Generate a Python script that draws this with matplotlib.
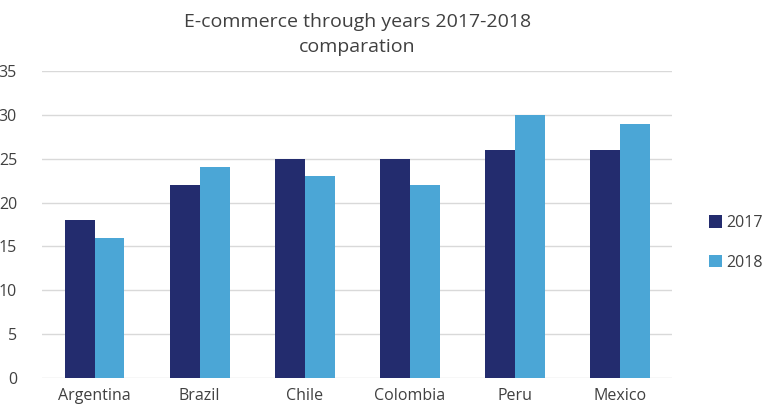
import numpy as np
import matplotlib.pyplot as plt

plt.rcParams['font.family'] = ['Open Sans', 'DejaVu Sans']

countries = ['Argentina', 'Brazil', 'Chile', 'Colombia', 'Peru', 'Mexico']
sales_2017 = [18, 22, 25, 25, 26, 26]
sales_2018 = [16, 24, 23, 22, 30, 29]

x = np.arange(len(countries))
w = 0.285

fig = plt.figure(figsize=(7.64, 4.15), dpi=100)
ax = fig.add_axes([0.055, 0.089, 0.825, 0.74])

ax.bar(x - w / 2, sales_2017, w, color='#232C6E', label='2017', zorder=3)
ax.bar(x + w / 2, sales_2018, w, color='#4BA6D6', label='2018', zorder=3)

ax.set_xlim(-0.5, len(countries) - 0.5)
ax.set_ylim(0, 35)
ax.set_yticks(range(0, 36, 5))
ax.set_xticks(x)
ax.set_xticklabels(countries)
ax.grid(axis='y', color='#d9d9d9', linewidth=1, zorder=0)
for s in ax.spines.values():
    s.set_visible(False)
ax.tick_params(length=0, labelsize=11.5, colors='#404040', pad=7)
ax.tick_params(axis='y', pad=18)

ax.set_title('E-commerce through years 2017-2018\ncomparation',
             fontsize=14, color='#404040', pad=14, linespacing=1.45)

ax.legend(loc='center left', bbox_to_anchor=(1.035, 0.44), frameon=False,
          fontsize=11.5, handlelength=0.8, handleheight=0.8,
          labelspacing=1.5, handletextpad=0.3, labelcolor='#404040')

fig.savefig('out.png')
